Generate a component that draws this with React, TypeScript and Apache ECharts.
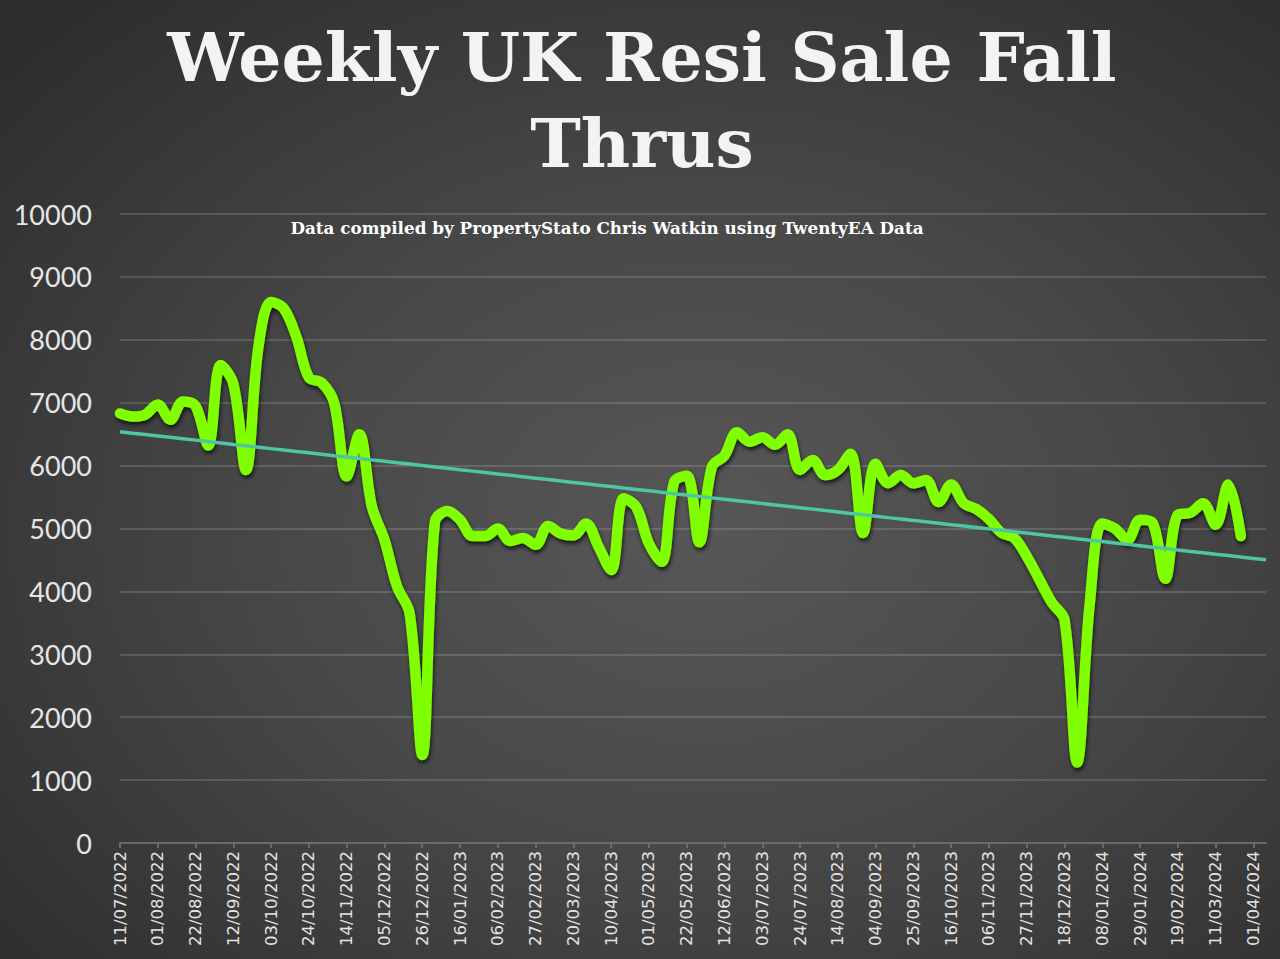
import React, { useEffect, useRef } from "react";
import * as echarts from "echarts";

const weeks: string[] = [
  "11/07/2022", "18/07/2022", "25/07/2022", "01/08/2022", "08/08/2022", "15/08/2022", "22/08/2022", "29/08/2022",
  "05/09/2022", "12/09/2022", "19/09/2022", "26/09/2022", "03/10/2022", "10/10/2022", "17/10/2022", "24/10/2022",
  "31/10/2022", "07/11/2022", "14/11/2022", "21/11/2022", "28/11/2022", "05/12/2022", "12/12/2022", "19/12/2022",
  "26/12/2022", "02/01/2023", "09/01/2023", "16/01/2023", "23/01/2023", "30/01/2023", "06/02/2023", "13/02/2023",
  "20/02/2023", "27/02/2023", "06/03/2023", "13/03/2023", "20/03/2023", "27/03/2023", "03/04/2023", "10/04/2023",
  "17/04/2023", "24/04/2023", "01/05/2023", "08/05/2023", "15/05/2023", "22/05/2023", "29/05/2023", "05/06/2023",
  "12/06/2023", "19/06/2023", "26/06/2023", "03/07/2023", "10/07/2023", "17/07/2023", "24/07/2023", "31/07/2023",
  "07/08/2023", "14/08/2023", "21/08/2023", "28/08/2023", "04/09/2023", "11/09/2023", "18/09/2023", "25/09/2023",
  "02/10/2023", "09/10/2023", "16/10/2023", "23/10/2023", "30/10/2023", "06/11/2023", "13/11/2023", "20/11/2023",
  "27/11/2023", "04/12/2023", "11/12/2023", "18/12/2023", "25/12/2023", "01/01/2024", "08/01/2024", "15/01/2024",
  "22/01/2024", "29/01/2024", "05/02/2024", "12/02/2024", "19/02/2024", "26/02/2024", "04/03/2024", "11/03/2024",
  "18/03/2024", "25/03/2024", "01/04/2024", "08/04/2024",
];

const fallThrus2022: number[] = [
  6830, 6780, 6810, 6970, 6730, 7020, 6950, 6320, 7600, 7300, 5930, 7900, 8600, 8500, 8050, 7400,
  7320, 7000, 5830, 6500, 5350, 4820, 4080, 3650, 1400,
];
const fallThrus2023: number[] = [
  5100, 5280, 5140, 4880, 4880, 5000, 4800, 4850, 4740, 5040, 4920, 4890, 5080, 4710, 4340, 5480,
  5340, 4760, 4470, 5740, 5840, 4780, 5980, 6160, 6530, 6380, 6450, 6330, 6500, 5930, 6090, 5850,
  5930, 6190, 4930, 6030, 5720, 5850, 5720, 5770, 5420, 5700, 5400, 5310, 5150, 4930, 4850, 4560,
  4190, 3820, 3550, 1280,
];
const fallThrus2024: number[] = [3800, 5080, 5000, 4820, 5140, 5090, 4200, 5220, 5250, 5400, 5060, 5700, 4880];

const yTicks = { min: 0, max: 10000, interval: 1000 };

const titleLines = ["Weekly UK Resi Sale Fall", "Thrus"];
const subtitle = "Data compiled by PropertyStato Chris Watkin using TwentyEA Data";

const fallThrus = [...fallThrus2022, ...fallThrus2023, ...fallThrus2024];

function linearTrend(values: number[], length: number): number[] {
  const n = values.length;
  let sx = 0, sy = 0, sxx = 0, sxy = 0;
  values.forEach((v, i) => {
    sx += i; sy += v; sxx += i * i; sxy += i * v;
  });
  const slope = (n * sxy - sx * sy) / (n * sxx - sx * sx);
  const icpt = (sy - slope * sx) / n;
  return Array.from({ length }, (_, i) => Math.round(icpt + slope * i));
}

export default function App() {
  const ref = useRef<HTMLDivElement>(null);
  useEffect(() => {
    document.body.style.margin = "0";
    if (!ref.current) return;
    const chart = echarts.init(ref.current, undefined, { renderer: "svg" });
    const trend = linearTrend(fallThrus, weeks.length);
    const titleStyle = {
      fontFamily: "DejaVu Serif",
      fontWeight: 900,
      fontSize: 68,
      fill: "#f3f3f3",
      textAlign: "center",
      textVerticalAlign: "middle",
      shadowColor: "rgba(0,0,0,0.75)",
      shadowBlur: 4,
      shadowOffsetX: 2,
      shadowOffsetY: 3,
    };
    chart.setOption({
      animation: false,
      backgroundColor: "transparent",
      graphic: [
        { type: "text", x: 642, y: 57, style: { ...titleStyle, text: titleLines[0] } },
        { type: "text", x: 642, y: 143, style: { ...titleStyle, text: titleLines[1] } },
        {
          type: "text",
          x: 607,
          y: 228,
          style: {
            text: subtitle,
            fontFamily: "DejaVu Serif",
            fontWeight: "bold",
            fontSize: 16.8,
            fill: "#ffffff",
            textAlign: "center",
            textVerticalAlign: "middle",
          },
        },
      ],
      grid: { left: 120, right: 14, top: 214, bottom: 116, containLabel: false },
      xAxis: {
        type: "category",
        data: weeks,
        boundaryGap: false,
        axisLine: { lineStyle: { color: "#6a6a6a", width: 2 } },
        axisTick: { interval: 2, length: 5, lineStyle: { color: "#6a6a6a", width: 2 } },
        axisLabel: {
          interval: 2,
          rotate: 90,
          margin: 8,
          color: "#e4e4e4",
          fontFamily: "DejaVu Sans",
          fontSize: 16.5,
        },
        splitLine: { show: false },
      },
      yAxis: {
        type: "value",
        min: yTicks.min,
        max: yTicks.max,
        interval: yTicks.interval,
        axisLine: { show: false },
        axisTick: { show: false },
        axisLabel: {
          margin: 28,
          color: "#e6e6e6",
          fontFamily: "Lato",
          fontSize: 27,
          formatter: (v: number) => String(v),
        },
        splitLine: { lineStyle: { color: "rgba(255,255,255,0.14)", width: 2 } },
      },
      series: [
        {
          name: "Fall Thrus",
          type: "line",
          data: fallThrus,
          smooth: 0.35,
          symbol: "none",
          lineStyle: {
            color: "#80ff00",
            width: 10.5,
            cap: "round",
            join: "round",
            shadowColor: "rgba(0,0,0,0.7)",
            shadowBlur: 4,
            shadowOffsetX: 1,
            shadowOffsetY: 3,
          },
          z: 2,
        },
        {
          name: "Trend",
          type: "line",
          data: trend,
          symbol: "none",
          lineStyle: { color: "#4fc6a3", width: 3.5 },
          z: 3,
        },
      ],
    });
    return () => chart.dispose();
  }, []);
  return (
    <div
      ref={ref}
      style={{
        width: 1280,
        height: 959,
        background: "radial-gradient(ellipse 75% 75% at 55% 55%, #575757 0%, #484848 45%, #2c2c2c 100%)",
      }}
    />
  );
}
